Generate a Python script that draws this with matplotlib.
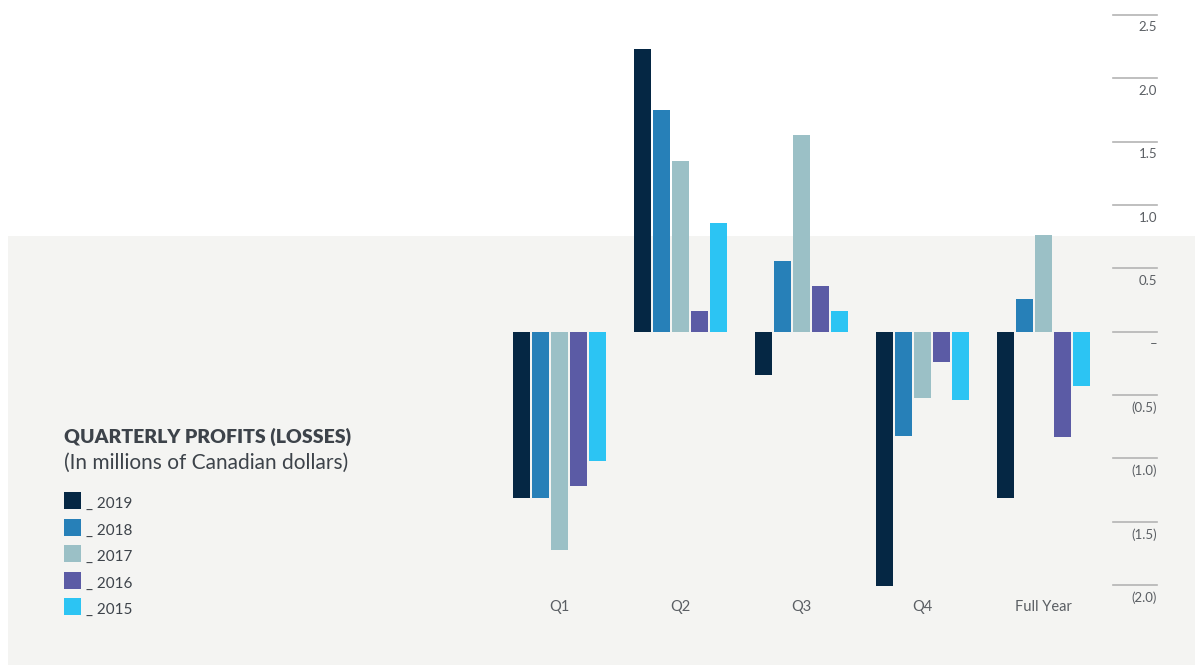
import matplotlib
matplotlib.use("Agg")
import matplotlib.pyplot as plt
from matplotlib.patches import Rectangle
import matplotlib.transforms as mtransforms

categories = ["Q1", "Q2", "Q3", "Q4", "Full Year"]
years = ["2019", "2018", "2017", "2016", "2015"]
v2019 = [-1.31, 2.23, -0.34, -2.01, -1.31]
v2018 = [-1.31, 1.75, 0.56, -0.82, 0.26]
v2017 = [-1.72, 1.35, 1.55, -0.52, 0.76]
v2016 = [-1.22, 0.16, 0.36, -0.24, -0.83]
v2015 = [-1.02, 0.86, 0.16, -0.54, -0.43]
series = [v2019, v2018, v2017, v2016, v2015]
colors = ["#052744", "#2780b8", "#9bc0c6", "#5b5ba5", "#2cc4f3"]
ticks = [2.5, 2.0, 1.5, 1.0, 0.5, 0.0, -0.5, -1.0, -1.5, -2.0]
tick_labels = ["2.5", "2.0", "1.5", "1.0", "0.5", "–", "(0.5)", "(1.0)", "(1.5)", "(2.0)"]

W, H = 1195, 665
fig = plt.figure(figsize=(W / 100, H / 100), dpi=100)
fig.patch.set_facecolor("white")

# gray panel in a background axes
bg = fig.add_axes([0, 0, 1, 1], zorder=0)
bg.set_xlim(0, W)
bg.set_ylim(H, 0)
bg.axis("off")
bg.add_patch(Rectangle((8, 236), W - 8, H - 236, facecolor="#f4f4f2",
                       edgecolor="none"))

ax = fig.add_axes([0, 0, 1, 1], zorder=2)
ax.set_facecolor("none")
ppu = 126.7
zero_px = 331.7
ax.set_ylim(-(H - zero_px) / ppu, zero_px / ppu)
gstep = 121.0
x0 = 559.0
ax.set_xlim(-x0 / gstep, (W - x0) / gstep)
ax.axis("off")

step = 19.0 / gstep
width = 17.0 / gstep
for i, (vals, c, y) in enumerate(zip(series, colors, years)):
    xs = [k + (i - 2) * step for k in range(len(categories))]
    ax.bar(xs, vals, width=width, color=c, linewidth=0, zorder=3)

font = "Lato"
tcol = "#5a5e63"
trans = mtransforms.blended_transform_factory(ax.transAxes, ax.transData)
for t, lab in zip(ticks, tick_labels):
    ax.plot([1113 / W, 1157 / W], [t, t], transform=trans, color="#b4b4b4",
            linewidth=1.2, zorder=2)
    ax.text(1157 / W, t - 12.5 / ppu, lab, transform=trans, ha="right",
            va="center", fontsize=9.5, color=tcol, family=font)

for k, cat in enumerate(categories):
    ax.text(k, -(607 - zero_px) / ppu, cat, ha="center", va="center",
            fontsize=10.5, color=tcol, family=font)

# title
ax.text(64 / W, 1 - 437 / H, "QUARTERLY PROFITS (LOSSES)", ha="left", va="center",
        fontsize=14, fontweight="heavy", color="#3d434a", family=font,
        transform=ax.transAxes)
ax.text(64 / W, 1 - 463 / H, "(In millions of Canadian dollars)", ha="left",
        va="center", fontsize=15, color="#3d434a", family=font,
        transform=ax.transAxes)

# legend
for i, (y, c) in enumerate(zip(years, colors)):
    top = 492 + i * 26.5
    bg.add_patch(Rectangle((64, top), 17, 17, facecolor=c, edgecolor="none"))
    bg.text(86, top + 12, "_ " + y, ha="left", va="center",
            fontsize=11, color="#3d434a", family=font)

fig.savefig("out.png", dpi=100)
